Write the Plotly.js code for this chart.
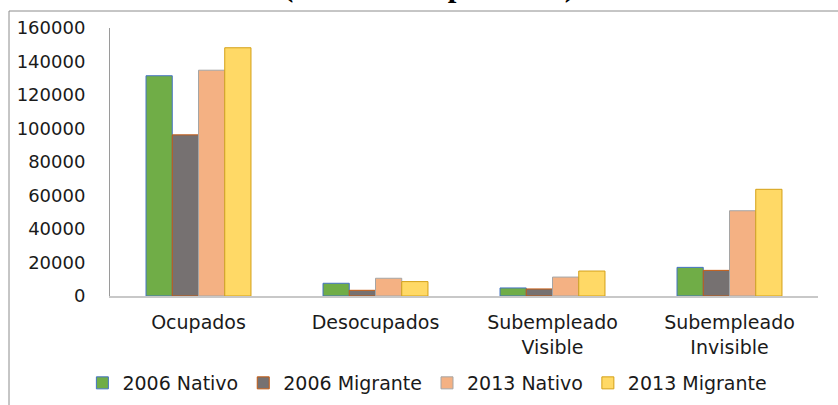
<!DOCTYPE html>
<html>
<head>
<meta charset="utf-8">
<script src="https://cdn.plot.ly/plotly-3.0.1.min.js"></script>
<style>html,body{margin:0;padding:0;background:#fff;}#chart{width:838px;height:405px;}</style>
</head>
<body>
<div id="chart"></div>
<script>
const categories = ["Ocupados", "Desocupados", "Subempleado<br>Visible", "Subempleado<br>Invisible"];
const seriesNames = ["2006 Nativo", "2006 Migrante", "2013 Nativo", "2013 Migrante"];
const nativo2006 = [131500, 7600, 4800, 17100];
const migrante2006 = [96200, 3400, 4200, 15300];
const nativo2013 = [134800, 10600, 11300, 50900];
const migrante2013 = [148200, 8600, 14900, 63700];
const yTicks = [0, 20000, 40000, 60000, 80000, 100000, 120000, 140000, 160000];
const titleText = "(Número de personas)";

const fills = ["#70AD47", "#767171", "#F4B183", "#FFD966"];
const outlines = ["#4472C4", "#C55A11", "#A5A5A5", "#D4A017"];
const seriesValues = [nativo2006, migrante2006, nativo2013, migrante2013];

const traces = seriesValues.map((vals, i) => ({
  type: "bar",
  name: seriesNames[i],
  x: categories,
  y: vals,
  marker: { color: fills[i], line: { color: outlines[i], width: 1 } },
  hoverinfo: "skip"
}));

const layout = {
  width: 838, height: 405,
  margin: { l: 110, r: 20, t: 28, b: 109, autoexpand: false },
  paper_bgcolor: "#ffffff", plot_bgcolor: "#ffffff",
  font: { family: "DejaVu Sans", color: "#1a1a1a", size: 18 },
  barmode: "group", bargap: 0.407, bargroupgap: 0,
  showlegend: true,
  legend: {
    orientation: "h", xref: "container", x: 0.51, xanchor: "center",
    yref: "container", y: 1 - 383 / 405, yanchor: "middle",
    font: { family: "DejaVu Sans", size: 19, color: "#1a1a1a" },
    traceorder: "normal"
  },
  xaxis: {
    showline: true, linecolor: "#c8c8c8", linewidth: 2,
    ticks: "", showgrid: false, zeroline: false, automargin: false,
    tickfont: { family: "DejaVu Sans", size: 19, color: "#1a1a1a" },
    ticklabelstandoff: 8
  },
  yaxis: {
    range: [0, 160000], tickvals: yTicks, ticktext: yTicks.map(String),
    showline: true, linecolor: "#9a9a9a", linewidth: 1, automargin: false,
    showgrid: false, zeroline: false, ticks: "",
    tickfont: { family: "DejaVu Sans", size: 18, color: "#1a1a1a" },
    ticklabelstandoff: 20
  },
  annotations: [{
    text: "<b>" + titleText + "</b>", xref: "paper", yref: "paper",
    x: (429 - 110) / 708, y: (296 + 15) / 268, xanchor: "center", yanchor: "middle",
    showarrow: false, font: { family: "Liberation Serif", size: 31, color: "#000" }
  }],
  shapes: [{
    type: "rect", xref: "paper", yref: "paper",
    x0: (9 - 110) / 708, x1: 1.1, y0: -0.6, y1: (296 - 11) / 268,
    line: { color: "#8c8c8c", width: 1 }, fillcolor: "rgba(0,0,0,0)", layer: "below"
  }]
};

Plotly.newPlot("chart", traces, layout, { staticPlot: true, displayModeBar: false });
</script>
</body>
</html>
